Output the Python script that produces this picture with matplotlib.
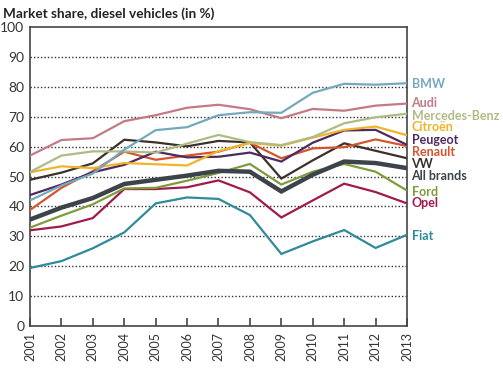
import matplotlib
matplotlib.use("Agg")
import matplotlib.pyplot as plt

years = list(range(2001, 2014))

bmw      = [42.0, 47.0, 51.0, 59.0, 65.5, 66.5, 70.5, 71.5, 71.3, 78.0, 81.0, 80.7, 81.2]
audi     = [57.0, 62.2, 62.8, 68.5, 70.5, 73.0, 74.0, 72.5, 69.5, 72.6, 72.0, 73.7, 74.4]
mercedes = [51.5, 57.0, 58.4, 58.4, 58.0, 61.0, 63.9, 61.5, 60.5, 63.2, 67.8, 69.8, 71.0]
citroen  = [51.4, 53.4, 52.8, 54.5, 54.1, 53.7, 58.5, 61.2, 60.3, 63.0, 65.6, 66.7, 63.8]
peugeot  = [43.8, 47.3, 51.4, 53.9, 58.3, 56.4, 56.6, 58.0, 55.0, 61.3, 65.4, 65.6, 60.6]
renault  = [38.8, 46.2, 51.8, 58.3, 55.6, 57.0, 58.3, 61.3, 56.1, 59.4, 59.8, 62.4, 60.2]
vw       = [48.9, 51.3, 54.4, 62.3, 61.4, 60.1, 61.9, 61.4, 49.3, 55.4, 61.1, 58.6, 56.1]
allbr    = [35.6, 39.6, 42.8, 47.5, 48.9, 50.3, 51.9, 51.6, 45.0, 50.6, 55.0, 54.5, 52.8]
ford     = [32.9, 36.9, 40.7, 46.0, 46.2, 48.6, 51.2, 54.2, 47.3, 51.6, 54.2, 51.6, 45.3]
opel     = [32.0, 33.3, 36.1, 45.8, 45.8, 46.4, 48.7, 44.7, 36.3, 42.0, 47.6, 44.8, 41.0]
fiat     = [19.4, 21.7, 26.0, 31.3, 41.0, 43.0, 42.5, 37.1, 24.1, 28.3, 32.1, 26.1, 30.5]

labels = ["BMW", "Audi", "Mercedes-Benz", "Citroën", "Peugeot", "Renault",
          "VW", "All brands", "Ford", "Opel", "Fiat"]
label_y = [80.8, 74.5, 70.4, 66.5, 62.3, 58.2, 54.3, 50.3, 44.7, 41.1, 30.0]

series = [bmw, audi, mercedes, citroen, peugeot, renault, vw, allbr, ford, opel, fiat]
colors = ["#74a9bd", "#c47a86", "#afbb84", "#f0b42a", "#4e2a5e", "#d4552e",
          "#3b302a", "#3c434b", "#7f9c3c", "#a01a4c", "#2f8a99"]
widths = [1.6, 1.6, 1.6, 1.6, 1.6, 1.6, 1.6, 3.2, 1.6, 1.6, 1.6]

plt.rcParams['font.family'] = ['Lato', 'DejaVu Sans']
fig = plt.figure(figsize=(5.03, 3.76), dpi=100)
ax = fig.add_axes([30/503, (376-326)/376, (407-30)/503, (326-27)/376])

order = [10, 9, 8, 6, 5, 4, 3, 2, 1, 0, 7]
for i in order:
    ax.plot(years, series[i], color=colors[i], lw=widths[i],
            solid_joinstyle='miter', zorder=3 + (1 if i == 7 else 0))

ax.set_xlim(2001, 2013)
ax.set_ylim(0, 100)
ax.set_yticks(range(0, 101, 10))
ax.set_xticks(years)
ax.set_xticklabels([str(y) for y in years], rotation=90, fontsize=9, color="#333333")
ax.tick_params(axis='y', length=0, labelsize=10, labelcolor="#333333", pad=4)
ax.tick_params(axis='x', direction='in', length=6, width=1.2, color="#444444", pad=4)
for y in range(10, 100, 10):
    ax.axhline(y, color="#333333", lw=1.0, ls=(0, (1, 1.5)), zorder=1)
for s in ax.spines.values():
    s.set_color("#444444")
    s.set_linewidth(1.2)

for lab, ly, c in zip(labels, label_y, colors):
    ax.text(1.012, ly, lab, transform=ax.get_yaxis_transform(), color=c,
            fontsize=9, fontweight='bold', va='center', ha='left', clip_on=False)

fig.text(3/503, 1 - 14/376, "Market share, diesel vehicles (in %)", fontsize=9.8,
         fontweight='bold', color="#222222", va='center', ha='left')

fig.savefig("out.png", dpi=100)
